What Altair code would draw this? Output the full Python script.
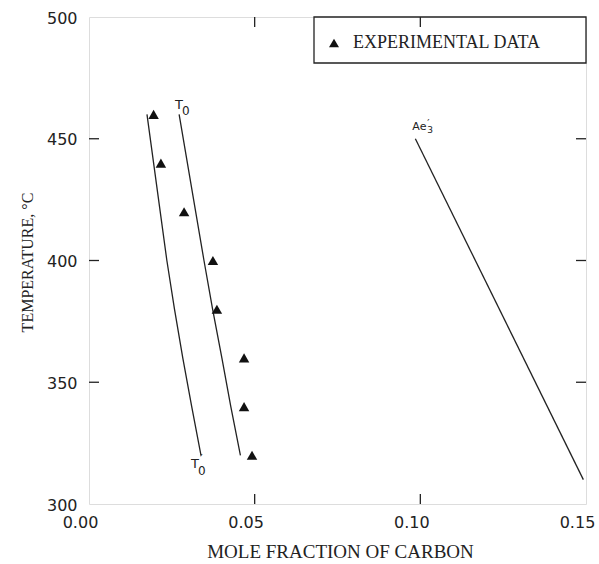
import altair as alt
import pandas as pd

# ---- data ----
exp_x = [0.0195, 0.0217, 0.0287, 0.0374, 0.0386, 0.0468, 0.0468, 0.0492]
exp_t = [460, 440, 420, 400, 380, 360, 340, 320]

curve_t = [460, 440, 420, 400, 380, 360, 340, 320]
t0_x = [0.0272, 0.0297, 0.0322, 0.0347, 0.0373, 0.0401, 0.0428, 0.0457]
t0p_x = [0.0175, 0.0195, 0.0215, 0.0235, 0.0258, 0.0283, 0.0310, 0.0338]
ae_x = [0.0985, 0.1492]
ae_t = [450, 310]

x_ticks = [0.0, 0.05, 0.10, 0.15]
y_ticks = [300, 350, 400, 450, 500]
x_inner = [0.05, 0.10]
y_inner = [350, 400, 450]

legend_label = "EXPERIMENTAL DATA"

W, H = 497, 487
SANS = "DejaVu Sans"
SERIF = "Liberation Serif"

# ---- tables ----
rows = []
for name, xs, ts in [("T0", t0_x, curve_t), ("T0p", t0p_x, curve_t), ("Ae3", ae_x, ae_t)]:
    for i, (xv, tv) in enumerate(zip(xs, ts)):
        rows.append({"curve": name, "x": xv, "t": tv, "o": i})
lines_df = pd.DataFrame(rows)
exp_df = pd.DataFrame({"x": exp_x, "t": exp_t, "kind": legend_label})

xs = alt.Scale(domain=[0, 0.15], nice=False, zero=False)
ys = alt.Scale(domain=[300, 500], nice=False, zero=False)

x_axis = alt.Axis(values=x_ticks, format=".2f", ticks=False, domain=False, grid=False,
                  labelFont=SANS, labelFontSize=16, labelColor="#222", labelOffset=-9,
                  labelPadding=10, labelFlush=False, labelOverlap=False,
                  title="MOLE FRACTION OF CARBON", titleFont=SERIF, titleFontSize=19,
                  titleFontWeight="normal", titleColor="#222", titleX=251, titleY=47,
                  titleBaseline="middle", titleAlign="center")
y_axis = alt.Axis(values=y_ticks, format="d", ticks=False, domain=False, grid=False,
                  labelFont=SANS, labelFontSize=16, labelColor="#222",
                  labelPadding=12, labelFlush=False, labelOverlap=False, labelOffset=1,
                  title="TEMPERATURE, °C", titleFont=SERIF, titleFontSize=16,
                  titleFontWeight="normal", titleColor="#222", titleX=-62, titleY=245,
                  titleAngle=-90, titleBaseline="middle", titleAlign="center")

lines = alt.Chart(lines_df).mark_line(color="#222", strokeWidth=1.3).encode(
    x=alt.X("x:Q", scale=xs, axis=x_axis),
    y=alt.Y("t:Q", scale=ys, axis=y_axis),
    detail="curve:N",
    order="o:O",
)

box = alt.Chart(pd.DataFrame({"a": [0]})).mark_rect(
    fill="white", stroke="#222", strokeWidth=1.3
).encode(x=alt.value(225), x2=alt.value(W), y=alt.value(0), y2=alt.value(46))

pts = alt.Chart(exp_df).mark_point(filled=True, color="#111", size=110, opacity=1).encode(
    x=alt.X("x:Q", scale=xs),
    y=alt.Y("t:Q", scale=ys),
    shape=alt.Shape("kind:N", scale=alt.Scale(range=["triangle-up"]),
                    legend=alt.Legend(title=None, orient="none", legendX=236, legendY=17,
                                      labelFont=SERIF, labelFontSize=18, labelColor="#222",
                                      symbolFillColor="#111", symbolStrokeColor="#111",
                                      symbolSize=100, padding=0, labelOffset=10,
                                      labelLimit=400)),
)

tick_y = pd.DataFrame({"t": y_inner})
tick_x = pd.DataFrame({"x": x_inner})
TL = 10
ticks = [
    alt.Chart(tick_y).mark_rule(color="#222", strokeWidth=1.3).encode(
        y=alt.Y("t:Q", scale=ys), x=alt.value(0), x2=alt.value(TL)),
    alt.Chart(tick_y).mark_rule(color="#222", strokeWidth=1.3).encode(
        y=alt.Y("t:Q", scale=ys), x=alt.value(W - TL), x2=alt.value(W)),
    alt.Chart(tick_x).mark_rule(color="#222", strokeWidth=1.3).encode(
        x=alt.X("x:Q", scale=xs), y=alt.value(H - TL), y2=alt.value(H)),
    alt.Chart(tick_x).mark_rule(color="#222", strokeWidth=1.3).encode(
        x=alt.X("x:Q", scale=xs), y=alt.value(0), y2=alt.value(TL)),
]

# curve labels: main letter(s), subscript, prime
def label(xv, tv, text, size, dx, dy):
    return alt.Chart(pd.DataFrame({"x": [xv], "t": [tv], "s": [text]})).mark_text(
        font=SANS, fontSize=size, color="#222", align="left", baseline="middle", dx=dx, dy=dy
    ).encode(x=alt.X("x:Q", scale=xs), y=alt.Y("t:Q", scale=ys), text="s:N")

labels = [
    label(t0_x[0], curve_t[0], "T", 13, -4, -9),
    label(t0_x[0], curve_t[0], "0", 12, 3, -3),
    label(t0p_x[-1], curve_t[-1], "T", 13, -10, 9),
    label(t0p_x[-1], curve_t[-1], "′", 12, -1, 4),
    label(t0p_x[-1], curve_t[-1], "0", 12, -3, 16),
    label(ae_x[0], ae_t[0], "Ae", 11, -3, -12),
    label(ae_x[0], ae_t[0], "3", 9, 12, -9),
    label(ae_x[0], ae_t[0], "′", 10, 12, -15),
]

chart = alt.layer(lines, box, *ticks, pts, *labels).properties(
    width=W, height=H,
    autosize=alt.AutoSizeParams(type="none"),
    padding={"left": 89, "top": 17, "right": 13, "bottom": 60},
).configure_view(stroke="#222", strokeWidth=1.3).configure(background="white")

chart.save("out.html", embed_options={"renderer": "svg", "actions": False})
